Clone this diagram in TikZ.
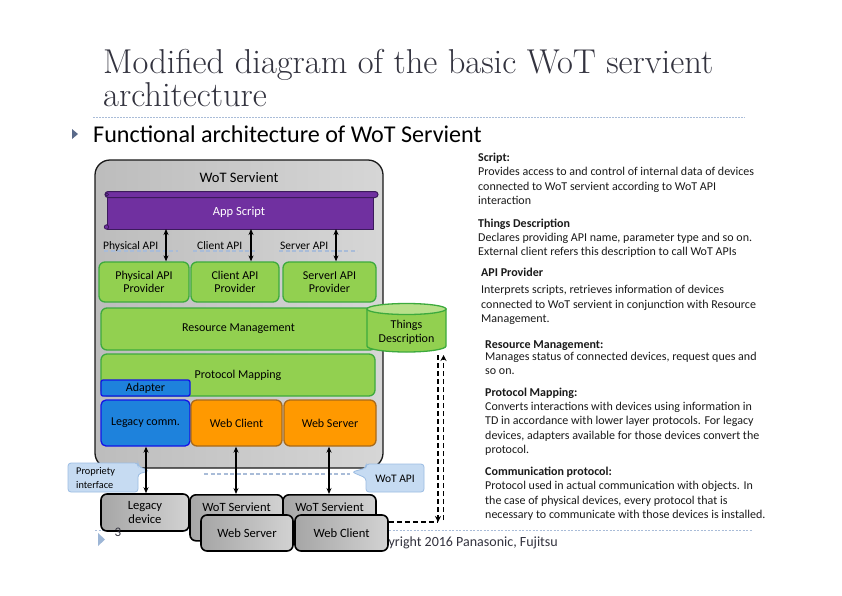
\documentclass[tikz,border=0pt]{standalone}
\usepackage{fontspec}
\newfontfamily\gs{Carlito}
\usetikzlibrary{arrows.meta,calc}
\definecolor{titlegray}{HTML}{33333F}
\definecolor{grn}{HTML}{92D050}
\definecolor{grnl}{HTML}{B8E08A}
\definecolor{grnb}{HTML}{3DAA3D}
\definecolor{purp}{HTML}{7030A0}
\definecolor{purpb}{HTML}{3C1A5C}
\definecolor{blu}{HTML}{1E82DC}
\definecolor{blub}{HTML}{1414E6}
\definecolor{org}{HTML}{FF9900}
\definecolor{orgb}{HTML}{A86A1A}
\definecolor{calfill}{HTML}{C6DBF2}
\definecolor{calb}{HTML}{9CBDE3}
\definecolor{dashb}{HTML}{A9BCD8}
\definecolor{bulletc}{HTML}{5A6A8A}
\definecolor{footc}{HTML}{9DB6D6}
\definecolor{txtc}{HTML}{1A1A1A}
\tikzset{
  boxfont/.style={font=\gs\fontsize{12}{13.5}\selectfont},
  gbox/.style={draw=grnb, line width=1.3pt, fill=grn, rounded corners=6pt, inner sep=0pt, align=center, boxfont},
  bbox/.style={draw=blub, line width=1.3pt, fill=blu, rounded corners=5pt, inner sep=0pt, align=center, boxfont},
  obox/.style={draw=orgb, line width=1.3pt, fill=org, rounded corners=6pt, inner sep=0pt, align=center, boxfont},
  lbox/.style={draw=black, line width=1.6pt, left color=gray!70, right color=gray!35, rounded corners=6pt, inner sep=0pt, align=center, font=\gs\fontsize{12.6}{14}\selectfont},
  dbl/.style={{Stealth[length=6pt,width=5pt]}-{Stealth[length=6pt,width=5pt]}, line width=1.3pt, black},
  apilbl/.style={anchor=base west, inner sep=0pt, font=\gs\fontsize{11.5}{12}\selectfont},
  rt/.style={anchor=base west, inner sep=0pt, font=\gs\fontsize{12}{12}\selectfont, text=txtc},
  rh/.style={anchor=base west, inner sep=0pt, font=\gs\bfseries\fontsize{12}{12}\selectfont, text=txtc},
  tdash/.style={draw=black, line width=1.4pt, dash pattern=on 5pt off 3pt},
}
\begin{document}
\begin{tikzpicture}[x=1pt,y=-1pt]
\useasboundingbox[fill=white] (0,0) rectangle (842,595);
% title
\node[anchor=base west, inner sep=0pt, text=titlegray, font=\fontsize{34.5}{36}\selectfont] (title1) at (103,73) {Modified diagram of the basic WoT servient};
\node[anchor=base west, inner sep=0pt, text=titlegray, font=\fontsize{34.5}{36}\selectfont] (title2) at (103,106) {architecture};
\draw[dashb, line width=0.6pt, dash pattern=on 1.5pt off 1.5pt] (93,117) -- (745,117);
\fill[bulletc] (72,129) -- (78,134) -- (72,139) -- cycle;
\node[anchor=base west, inner sep=0pt, font=\gs\fontsize{24.1}{26}\selectfont, text=black] (sub) at (93,142) {Functional architecture of WoT Servient};

% footer text (under boxes)
\draw[dashb, line width=0.6pt, dash pattern=on 2pt off 1.5pt] (95,530) -- (752,530);
\fill[footc] (98,533) -- (105,539.5) -- (98,546) -- cycle;
\node[anchor=base east, inner sep=0pt, font=\gs\fontsize{14}{16}\selectfont, text=titlegray] (copy) at (558,546) {Copyright 2016 Panasonic, Fujitsu};

% big servient box
\draw[draw=gray!20!black, line width=1.3pt, left color=gray!52, right color=gray!32, rounded corners=15pt] (95,160) rectangle (383,468);
\node[inner sep=0pt, font=\gs\fontsize{14.5}{16}\selectfont] (wots) at (239,178) {WoT Servient};

% App script scroll
\draw[draw=purpb, line width=1pt, fill=purp] (107,195) rectangle (373,229);
\draw[draw=purpb, line width=1pt, fill=purp, rounded corners=3pt] (105,191.5) rectangle (378,197.5);
\draw[draw=purpb, line width=0.8pt, fill=purp] (106.5,227) circle (2.2);
\draw[draw=purpb, line width=0.8pt, fill=purp] (107,194.5) circle (1.6);
\node[inner sep=0pt, text=white, font=\gs\fontsize{12.5}{14}\selectfont] (app) at (239,212) {App Script};
\coordinate (appb) at (239,229);

% API labels and dashed lines
\draw[dashb, line width=1.3pt, dash pattern=on 4pt off 2.5pt] (104,251) -- (178,251);
\draw[dashb, line width=1.3pt, dash pattern=on 4pt off 2.5pt] (193,251) -- (255,251);
\draw[dashb, line width=1.3pt, dash pattern=on 4pt off 2.5pt] (279,251) -- (357,251);
\node[apilbl] (lphys) at (103,249) {Physical API};
\node[apilbl] (lcli) at (197,249) {Client API};
\node[apilbl] (lsrv) at (280,249) {Server API};

% providers
\node[gbox, minimum width=90pt, minimum height=40pt] (pap) at (144,282) {Physical API\\Provider};
\node[gbox, minimum width=88pt, minimum height=40pt] (cap) at (235,282) {Client API\\Provider};
\node[gbox, minimum width=93pt, minimum height=40pt] (sap) at (329.5,282) {ServerI API\\Provider};

\coordinate (x1) at (166,0);
\coordinate (x2) at (251,0);
\coordinate (x3) at (336,0);
\draw[dbl] (appb -| x1) -- (pap.north -| x1);
\draw[dbl] (appb -| x2) -- (cap.north -| x2);
\draw[dbl] (appb -| x3) -- (sap.north -| x3);

% resource management & protocol mapping
\node[gbox, minimum width=275pt, minimum height=42pt] (rm) at (238.5,329) {Resource Management};
\node[gbox, minimum width=274pt, minimum height=42pt] (pm) at (238,375) {\raisebox{-3pt}{Protocol Mapping}};
\node[bbox, rounded corners=2pt, minimum width=89pt, minimum height=16pt] (adp) at (145.5,388) {Adapter};

% things description cylinder
\draw[draw=grnb, line width=1.3pt, fill=grn] (367,309) -- (367,346) arc[start angle=180, end angle=0, x radius=39.5, y radius=6] -- (446,309) -- cycle;
\draw[draw=grnb, line width=1.3pt, fill=grnl] (406.5,309) ellipse[x radius=39.5, y radius=5.5];
\node[inner sep=0pt, align=center, font=\gs\fontsize{12}{14}\selectfont] (td) at (406.5,332) {Things\\Description};

% communication row
\node[bbox, minimum width=89pt, minimum height=46pt] (lcom) at (145.5,423) {Legacy comm.};
\node[obox, minimum width=91pt, minimum height=46pt] (wcl) at (236.5,423) {Web Client};
\node[obox, minimum width=92pt, minimum height=46pt] (wsv) at (330,423) {Web Server};

% WoT API dashed line
\draw[dashb, line width=1.3pt, dash pattern=on 4pt off 2.5pt] (204,474) -- (350,474);

% callouts
\draw[draw=calb, line width=0.8pt, fill=calfill, rounded corners=3pt] (68,463) -- (138,463) -- (138,466) -- (149,471) -- (138,474) -- (138,492) -- (68,492) -- cycle;
\node[anchor=base west, inner sep=0pt, font=\gs\fontsize{10.3}{11}\selectfont] (prop1) at (76,474) {Propriety};
\node[anchor=base west, inner sep=0pt, font=\gs\fontsize{10.3}{11}\selectfont] (prop2) at (76,488) {interface};
\draw[draw=calb, line width=0.8pt, fill=calfill, rounded corners=3pt] (366,464) -- (424,464) -- (424,492) -- (366,492) -- (366,478) -- (352,472) -- (366,468) -- cycle;
\node[inner sep=0pt, font=\gs\fontsize{11.5}{12}\selectfont] (wapi) at (395,479) {WoT API};

% lower boxes
\node[lbox, minimum width=88pt, minimum height=37pt] (ldev) at (145,512.5) {Legacy\\device};
\node[lbox, minimum width=93pt, minimum height=46pt, anchor=north] (ws1) at (236.5,494) {};
\node[inner sep=0pt, font=\gs\fontsize{12.6}{14}\selectfont] (ws1t) at (236.5,507) {WoT Servient};
\node[lbox, minimum width=93pt, minimum height=46pt, anchor=north] (ws2) at (329.5,494) {};
\node[inner sep=0pt, font=\gs\fontsize{12.6}{14}\selectfont] (ws2t) at (329.5,507) {WoT Servient};
\node[lbox, minimum width=92pt, minimum height=36pt] (wsrv) at (247,533) {Web Server};
\node[lbox, minimum width=93pt, minimum height=36pt] (wcli) at (341.5,533) {Web Client};

% vertical arrows bottom
\coordinate (y1) at (146,0);
\coordinate (y2) at (236,0);
\coordinate (y3) at (329,0);
\draw[dbl] (lcom.south -| y1) -- (ldev.north -| y1);
\draw[dbl] (wcl.south -| y2) -- (ws1.north -| y2);
\draw[dbl] (wsv.south -| y3) -- (ws2.north -| y3);

% dashed TD arrows
\coordinate (tdx1) at (438,355);
\coordinate (tdx2) at (443.5,355);
\coordinate (corner) at (438,522);
\draw[tdash] (wcli.east |- corner) -- (corner);
\draw[tdash, -{Stealth[length=6pt,width=6pt]}] (tdx1) -- (corner);
\draw[tdash, -{Stealth[length=6pt,width=6pt]}] (443.5,520) -- (tdx2);

% page number
\node[anchor=base, inner sep=0pt, font=\gs\fontsize{13}{14}\selectfont, text=titlegray] (pg) at (118,536) {3};

% right text
\node[rh] (r1) at (478,161) {Script:};
\node[rt] (r2) at (478,175) {Provides access to and control of internal data of devices};
\node[rt] (r3) at (478,190) {connected to WoT servient according to WoT API};
\node[rt] (r4) at (478,204) {interaction};
\node[rh] (r5) at (478,227) {Things Description};
\node[rt] (r6) at (478,241) {Declares providing API name, parameter type and so on.};
\node[rt] (r7) at (478,255) {External client refers this description to call WoT APIs};
\node[rh] (r8) at (481,276) {API Provider};
\node[rt] (r9) at (481,293) {Interprets scripts, retrieves information of devices};
\node[rt] (r10) at (481,308) {connected to WoT servient in conjunction with Resource};
\node[rt] (r11) at (481,322) {Management.};
\node[rh] (r12) at (485,348) {Resource Management:};
\node[rt] (r13) at (485,360) {Manages status of connected devices, request ques and};
\node[rt] (r14) at (485,374) {so on.};
\node[rh] (r15) at (485,396) {Protocol Mapping:};
\node[rt] (r16) at (485,410) {Converts interactions with devices using information in};
\node[rt] (r17) at (485,424) {TD in accordance with lower layer protocols. For legacy};
\node[rt] (r18) at (485,439) {devices, adapters available for those devices convert the};
\node[rt] (r19) at (485,453) {protocol.};
\node[rh] (r20) at (485,475) {Communication protocol:};
\node[rt] (r21) at (485,489) {Protocol used in actual communication with objects. In};
\node[rt] (r22) at (485,504) {the case of physical devices, every protocol that is};
\node[rt] (r23) at (485,518) {necessary to communicate with those devices is installed.};
\end{tikzpicture}
\end{document}
